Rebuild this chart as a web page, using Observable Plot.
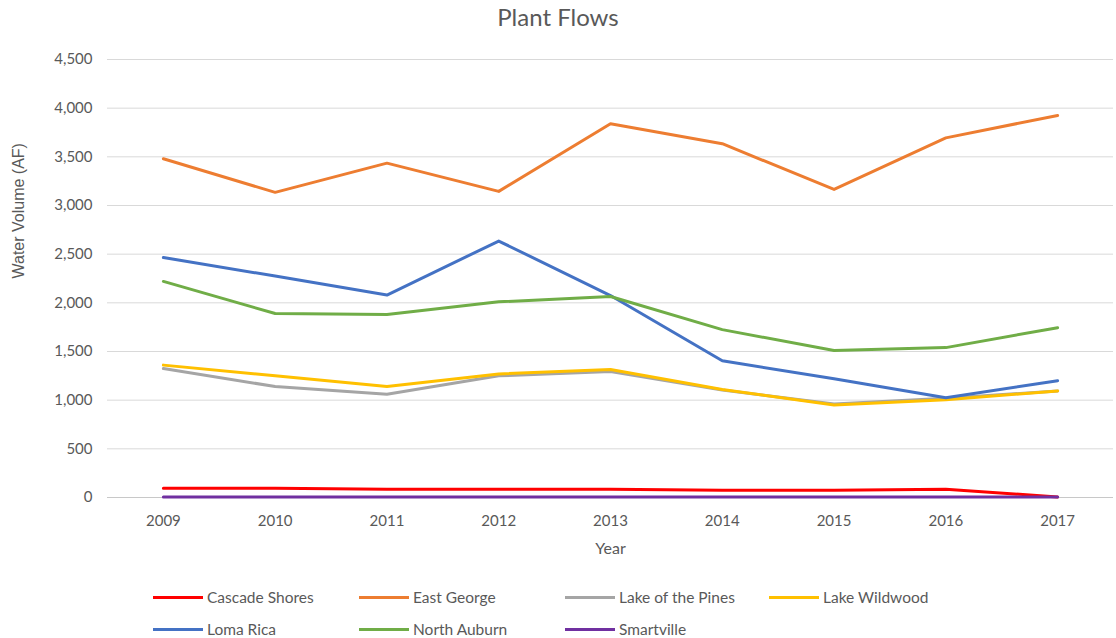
<!DOCTYPE html>
<html>
<head>
<meta charset="utf-8">
<script src="https://cdn.jsdelivr.net/npm/d3@7"></script>
<script src="https://cdn.jsdelivr.net/npm/@observablehq/plot@0.6"></script>
<style>
  html, body { margin: 0; padding: 0; background: #fff; }
  #wrap { position: relative; width: 1116px; height: 638px; font-family: Lato, "Open Sans", sans-serif; color: #595959; }
  #title { position: absolute; left: 0; width: 1116px; top: 2px; text-align: center; font-size: 24px; color: #595959; }
  #chart { position: absolute; left: 0; top: 45px; }
  #legend { position: absolute; left: 0; top: 0; width: 1116px; height: 638px; pointer-events: none; }
  .item { position: absolute; display: flex; align-items: center; font-size: 15.5px; color: #595959; white-space: nowrap; }
  .sw { width: 50px; height: 3px; margin-right: 4px; }
</style>
</head>
<body>
<div id="wrap">
  <div id="title">Plant Flows</div>
  <div id="chart"></div>
  <div id="legend"></div>
</div>
<script>
const years = [2009, 2010, 2011, 2012, 2013, 2014, 2015, 2016, 2017];
const seriesNames = ["Cascade Shores", "East George", "Lake of the Pines", "Lake Wildwood", "Loma Rica", "North Auburn", "Smartville"];
const seriesColors = ["#ff0000", "#ed7d31", "#a5a5a5", "#ffc000", "#4472c4", "#70ad47", "#7030a0"];
const cascadeShores  = [95, 95, 85, 85, 85, 75, 75, 85, 5];
const eastGeorge     = [3480, 3135, 3435, 3145, 3840, 3635, 3165, 3695, 3925];
const lakeOfThePines = [1325, 1140, 1060, 1250, 1295, 1105, 960, 1020, 1095];
const lakeWildwood   = [1360, 1250, 1140, 1270, 1315, 1110, 950, 1005, 1095];
const lomaRica       = [2465, 2275, 2080, 2635, 2075, 1405, 1220, 1025, 1200];
const northAuburn    = [2220, 1890, 1880, 2010, 2065, 1725, 1510, 1540, 1745];
const smartville     = [5, 5, 5, 5, 5, 5, 5, 5, 5];
const yTicks = [0, 500, 1000, 1500, 2000, 2500, 3000, 3500, 4000, 4500];

const seriesValues = [cascadeShores, eastGeorge, lakeOfThePines, lakeWildwood, lomaRica, northAuburn, smartville];
const rows = [];
seriesNames.forEach((name, i) => {
  years.forEach((yr, j) => rows.push({series: name, year: yr, value: seriesValues[i][j]}));
});

const fmt = d3.format(",");
const plot = Plot.plot({
  width: 1116,
  height: 520,
  marginTop: 14,
  marginBottom: 68,
  marginLeft: 107,
  marginRight: 3,
  style: {fontFamily: "Lato, 'Open Sans', sans-serif", fontSize: "15px", color: "#595959", background: "#fff"},
  x: {domain: [2008.5, 2017.5], ticks: years, tickFormat: d => String(d), tickSize: 0, tickPadding: 18,
      label: null},
  y: {domain: [0, 4500], ticks: yTicks, tickFormat: fmt, tickSize: 0, tickPadding: 15,
      label: null},
  color: {domain: seriesNames, range: seriesColors},
  marks: [
    Plot.ruleY(yTicks.filter(d => d > 0), {stroke: "#d9d9d9", strokeWidth: 1}),
    Plot.ruleY([0], {stroke: "#c8c8c8", strokeWidth: 1}),
    Plot.line(rows, {x: "year", y: "value", z: "series", stroke: "series", strokeWidth: 3, strokeLinejoin: "round", strokeLinecap: "round"}),
    Plot.text(["Year"], {frameAnchor: "bottom", dy: 56, fontSize: 16, fill: "#595959"}),
    Plot.text(["Water Volume (AF)"], {frameAnchor: "left", dx: -89, rotate: -90, fontSize: 16, fill: "#595959", fontFamily: "'Liberation Sans', Arial, sans-serif"})
  ]
});
plot.querySelectorAll("text").forEach(t => t.setAttribute("fill", "#595959"));
document.getElementById("chart").appendChild(plot);

const legendPos = [[153, 598], [359, 598], [565, 598], [769, 598], [153, 630], [359, 630], [565, 630]];
const legend = document.getElementById("legend");
seriesNames.forEach((name, i) => {
  const it = document.createElement("div");
  it.className = "item";
  it.style.left = legendPos[i][0] + "px";
  it.style.top = (legendPos[i][1] - 10) + "px";
  const sw = document.createElement("span");
  sw.className = "sw";
  sw.style.background = seriesColors[i];
  const tx = document.createElement("span");
  tx.textContent = name;
  it.appendChild(sw); it.appendChild(tx);
  legend.appendChild(it);
});
</script>
</body>
</html>
